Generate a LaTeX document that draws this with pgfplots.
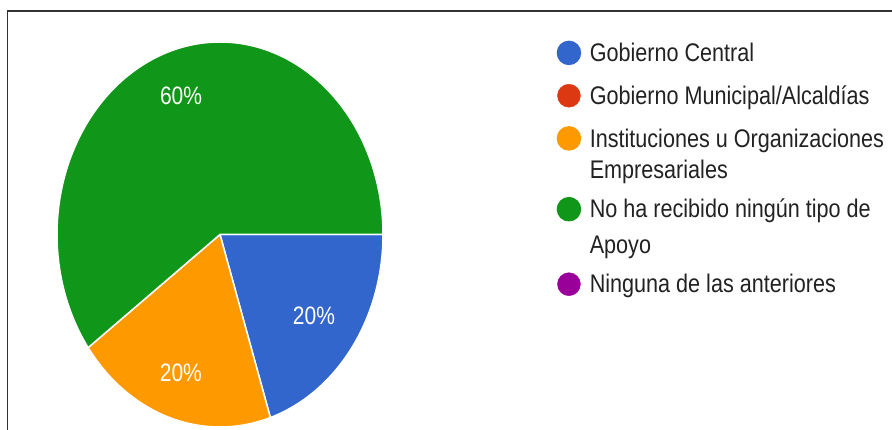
\documentclass[border=0pt]{standalone}
\usepackage{pgfplots}
\pgfplotsset{compat=1.18}
\usepackage{fontspec}
\setmainfont{Liberation Sans}
\usepackage{graphicx}
\definecolor{cBlue}{HTML}{3366CC}
\definecolor{cRed}{HTML}{DC3912}
\definecolor{cOrange}{HTML}{FF9900}
\definecolor{cGreen}{HTML}{109618}
\definecolor{cPurple}{HTML}{990099}
\definecolor{cText}{HTML}{222222}
% legend line, lowered by #1 (pt) from the uniform row position
\newcommand\ent[2]{\raisebox{-#1pt}{\scalebox{1}[1.18]{#2}}}
\newcommand\lab[1]{\scalebox{1}[1.2]{#1}}
\begin{document}
\begin{tikzpicture}
\useasboundingbox (0,0) rectangle (892pt,430pt);
\begin{axis}[at={(57pt,3pt)}, anchor=south west, scale only axis,
  width=326pt, height=385pt, xmin=-1, xmax=1, ymin=-1, ymax=1,
  hide axis, clip=false,
  legend cell align=left,
  legend style={at={(1.5328,1.01117)}, anchor=north west, draw=none, fill=none,
    inner sep=0pt, outer sep=0pt, column sep=8.6pt, row sep=0pt,
    font=\fontsize{21.6}{26}\selectfont, text=cText,
    nodes={inner sep=0pt, outer sep=0pt, text height=24pt, text depth=14.55pt},
    cells={anchor=base west}},
]
\addplot[fill=cBlue, draw=white, line width=1.5pt, domain=0:-72, samples=61,
  legend image code/.code={\fill[cBlue] (11.5pt,8.8pt) circle (11.5pt);}]
  ({cos(x)},{sin(x)}) -- (0,0) -- cycle;
\addlegendentry{\ent{0}{Gobierno Central}}
\addlegendimage{legend image code/.code={\fill[cRed] (11.5pt,4.55pt) circle (11.5pt);}}
\addlegendentry{\ent{4.25}{Gobierno Municipal/Alcaldías}}
\addplot[fill=cOrange, draw=white, line width=1.5pt, domain=-72:-144, samples=61,
  legend image code/.code={\fill[cOrange] (11.5pt,0.4pt) circle (11.5pt);}]
  ({cos(x)},{sin(x)}) -- (0,0) -- cycle;
\addlegendentry{\ent{8.4}{Instituciones u Organizaciones}}
\addlegendimage{empty legend}
\addlegendentry{\ent{1.65}{Empresariales}}
\addplot[fill=cGreen, draw=white, line width=1.5pt, domain=-144:-360, samples=181,
  legend image code/.code={\fill[cGreen] (11.5pt,6.7pt) circle (11.5pt);}]
  ({cos(x)},{sin(x)}) -- (0,0) -- cycle;
\addlegendentry{\ent{2.1}{No ha recibido ningún tipo de}}
\addlegendimage{empty legend}
\addlegendentry{\ent{-0.45}{Apoyo}}
\addlegendimage{legend image code/.code={\fill[cPurple] (11.5pt,8.8pt) circle (11.5pt);}}
\addlegendentry{\ent{0}{Ninguna de las anteriores}}
\node[text=white, font=\fontsize{21}{24}\selectfont] at (axis cs:-0.239,0.7195) {\lab{60\%}};
\node[text=white, font=\fontsize{21}{24}\selectfont] at (axis cs:0.5767,-0.423) {\lab{20\%}};
\node[text=white, font=\fontsize{21}{24}\selectfont] at (axis cs:-0.240,-0.717) {\lab{20\%}};
\end{axis}
\draw[line width=1.2pt, black!80] (7.5pt,0pt) -- (7.5pt,419pt) -- (892pt,419pt);
\end{tikzpicture}
\end{document}
